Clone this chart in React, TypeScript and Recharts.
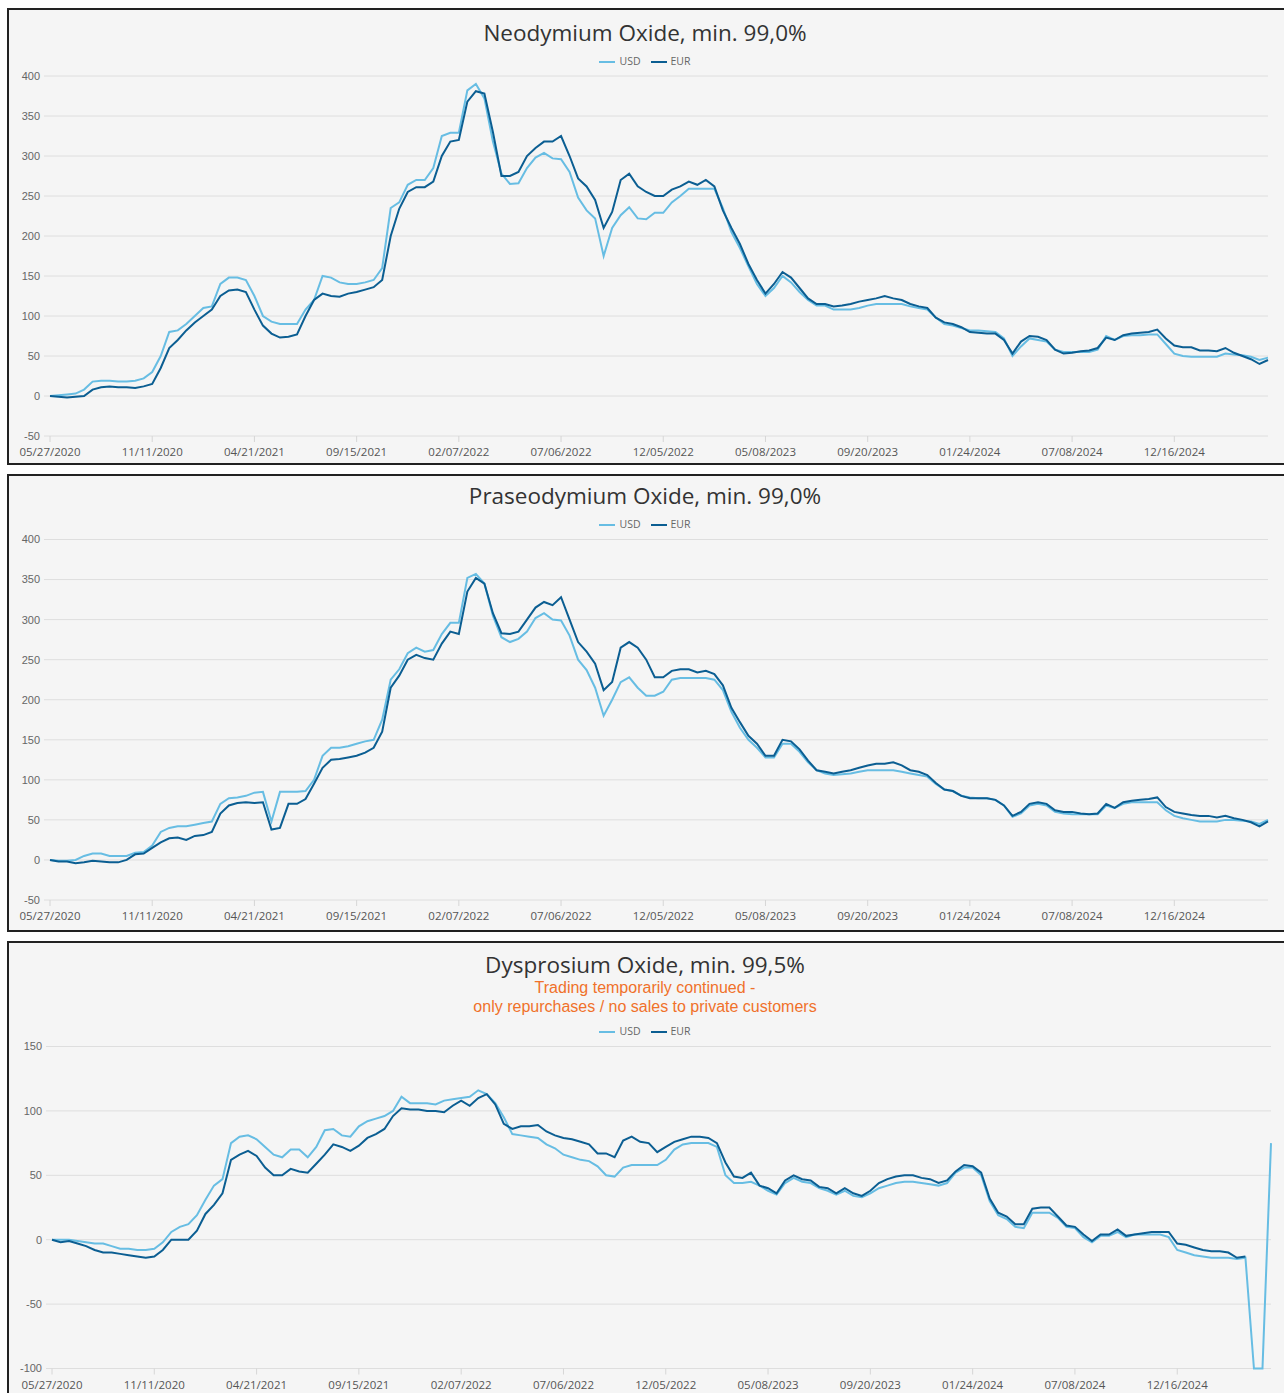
import { LineChart, Line, XAxis, YAxis, CartesianGrid, Legend } from 'recharts'

const TICK_LABELS = [
  '05/27/2020', '11/11/2020', '04/21/2021', '09/15/2021', '02/07/2022', '07/06/2022',
  '12/05/2022', '05/08/2023', '09/20/2023', '01/24/2024', '07/08/2024', '12/16/2024',
]
// data points between two labelled dates
const STEP = 12

// performance in %, weekly-ish samples
const NEO_USD = [
  0, 1, 2, 3, 8, 18, 19, 19, 18, 18,
  19, 22, 30, 50, 80, 82, 90, 100, 110, 112,
  140, 148, 148, 145, 125, 100, 93, 90, 90, 90,
  108, 120, 150, 148, 142, 140, 140, 142, 145, 160,
  235, 242, 264, 270, 270, 285, 325, 329, 329, 382,
  390, 372, 318, 278, 265, 266, 285, 298, 304, 297,
  296, 280, 248, 232, 222, 175, 210, 226, 236, 222,
  221, 229, 229, 242, 250, 259, 259, 259, 259, 235,
  205, 185, 162, 140, 125, 135, 150, 142, 130, 120,
  113, 113, 108, 108, 108, 110, 113, 115, 115, 115,
  115, 112, 110, 108, 98, 90, 88, 85, 82, 82,
  81, 80, 72, 50, 62, 72, 70, 68, 58, 55,
  55, 55, 55, 58, 75, 70, 75, 76, 76, 77,
  77, 65, 53, 50, 49, 49, 49, 49, 53, 52,
  51, 49, 45, 48,
]
const NEO_EUR = [
  0, -1, -2, -1, 0, 8, 11, 12, 11, 11,
  10, 12, 15, 35, 60, 70, 82, 92, 100, 108,
  125, 132, 133, 130, 108, 88, 78, 73, 74, 77,
  100, 120, 128, 125, 124, 128, 130, 133, 136, 145,
  200, 234, 255, 261, 261, 268, 300, 318, 320, 368,
  381, 378, 330, 275, 275, 280, 300, 310, 318, 318,
  325, 300, 272, 262, 245, 210, 230, 270, 278, 262,
  255, 250, 250, 258, 262, 268, 264, 270, 262, 232,
  210, 190, 165, 145, 128, 140, 155, 148, 135, 122,
  115, 115, 112, 113, 115, 118, 120, 122, 125, 122,
  120, 115, 112, 110, 98, 92, 90, 86, 80, 79,
  78, 78, 70, 53, 68, 75, 74, 70, 58, 53,
  54, 56, 57, 60, 73, 70, 76, 78, 79, 80,
  83, 72, 63, 61, 61, 57, 57, 56, 60, 54,
  50, 46, 40, 45,
]

const PRA_USD = [
  0, -1, -1, 0, 5, 8, 8, 5, 5, 5,
  9, 10, 18, 35, 40, 42, 42, 44, 46, 48,
  70, 77, 78, 80, 84, 85, 48, 85, 85, 85,
  86, 100, 130, 140, 140, 142, 145, 148, 150, 175,
  225, 238, 258, 265, 260, 262, 282, 296, 296, 352,
  357, 345, 305, 278, 272, 276, 285, 302, 308, 300,
  299, 280, 250, 237, 215, 180, 200, 222, 228, 215,
  205, 205, 210, 225, 227, 227, 227, 227, 225, 212,
  185, 165, 150, 140, 128, 128, 145, 145, 135, 122,
  112, 108, 106, 107, 108, 110, 112, 112, 112, 112,
  110, 108, 106, 104, 95, 88, 86, 80, 78, 77,
  77, 75, 68, 54, 58, 68, 70, 68, 60, 58,
  57, 57, 57, 57, 68, 65, 70, 72, 72, 72,
  72, 62, 55, 52, 50, 48, 48, 48, 50, 50,
  49, 48, 45, 50,
]
const PRA_EUR = [
  0, -2, -2, -4, -3, -1, -2, -3, -3, 0,
  7, 8, 15, 22, 27, 28, 25, 30, 31, 35,
  58, 68, 71, 72, 71, 72, 38, 40, 70, 70,
  76, 95, 115, 125, 126, 128, 130, 134, 140, 160,
  215, 230, 250, 256, 252, 250, 270, 285, 282, 335,
  352, 345, 308, 283, 282, 285, 300, 315, 322, 318,
  328, 300, 272, 260, 245, 212, 222, 265, 272, 265,
  250, 228, 228, 236, 238, 238, 234, 236, 232, 218,
  190, 172, 155, 145, 130, 130, 150, 148, 138, 124,
  112, 110, 108, 110, 112, 115, 118, 120, 120, 122,
  118, 112, 110, 106, 96, 88, 86, 80, 77, 77,
  77, 75, 68, 55, 60, 70, 72, 70, 62, 60,
  60, 58, 57, 58, 70, 65, 72, 74, 75, 76,
  78, 66, 60, 58, 56, 55, 55, 53, 55, 52,
  50, 47, 42, 48,
]

const DY_USD = [
  0, 0, 0, -1, -2, -3, -3, -5, -7, -7,
  -8, -8, -7, -2, 6, 10, 12, 19, 31, 42,
  47, 75, 80, 81, 78, 72, 66, 64, 70, 70,
  64, 72, 85, 86, 81, 80, 88, 92, 94, 96,
  100, 111, 106, 106, 106, 105, 108, 109, 110, 111,
  116, 113, 106, 95, 82, 81, 80, 79, 74, 71,
  66, 64, 62, 61, 57, 50, 49, 56, 58, 58,
  58, 58, 62, 70, 74, 75, 75, 75, 72, 50,
  44, 44, 45, 42, 38, 35, 44, 48, 45, 44,
  40, 38, 35, 38, 34, 33, 36, 40, 42, 44,
  45, 45, 44, 43, 42, 44, 52, 56, 56, 50,
  30, 19, 16, 10, 9, 21, 21, 21, 17, 10,
  9, 2, -2, 3, 3, 6, 2, 4, 4, 4,
  4, 2, -8, -10, -12, -13, -14, -14, -14, -15,
  -14, -100, -100, 75,
]
const DY_EUR = [
  0, -2, -1, -3, -5, -8, -10, -10, -11, -12,
  -13, -14, -13, -8, 0, 0, 0, 7, 20, 27,
  36, 62, 66, 69, 65, 56, 50, 50, 55, 53,
  52, 59, 66, 74, 72, 69, 73, 79, 82, 86,
  96, 102, 101, 101, 100, 100, 99, 104, 108, 104,
  110, 113, 105, 90, 86, 88, 88, 89, 84, 81,
  79, 78, 76, 74, 67, 67, 64, 77, 80, 76,
  75, 68, 72, 76, 78, 80, 80, 79, 75, 60,
  49, 48, 52, 42, 40, 36, 46, 50, 47, 46,
  41, 40, 36, 40, 36, 34, 38, 44, 47, 49,
  50, 50, 48, 47, 44, 46, 53, 58, 57, 52,
  32, 21, 18, 12, 12, 24, 25, 25, 18, 11,
  10, 4, -1, 4, 4, 8, 3, 4, 5, 6,
  6, 6, -3, -4, -6, -8, -9, -9, -10, -14,
  -13, null, null, null,
]

const Y_TICKS_WIDE = [-50, 0, 50, 100, 150, 200, 250, 300, 350, 400]
const Y_TICKS_DY = [-100, -50, 0, 50, 100, 150]

const USD_COLOR = '#67bde3'
const EUR_COLOR = '#0b5e92'
const CHART_W = 1272
const X_TICKS = TICK_LABELS.map((_, k) => k * STEP)

type PanelProps = {
  top: number
  height: number
  title: string
  notes?: string[]
  usd: (number | null)[]
  eur: (number | null)[]
  yTicks: number[]
  titleY: number
  legendY: number
  plotTop: number
  plotBottom: number
  plotLeft: number
  plotRight: number
}

function Panel(p: PanelProps) {
  const data = p.usd.map((v, i) => ({ i, usd: v, eur: p.eur[i] }))
  const last = p.usd.length - 1
  const chartH = p.height - 4
  return (
    <div
      style={{
        position: 'absolute', left: 7, top: p.top, width: 1279, height: p.height,
        border: '2px solid #222', boxSizing: 'border-box', background: '#f5f5f5', overflow: 'hidden',
      }}
    >
      <div style={{ position: 'absolute', left: 0, top: 0 }}>
        <LineChart
          width={CHART_W}
          height={chartH}
          data={data}
          margin={{ top: p.plotTop, right: CHART_W - p.plotRight, bottom: chartH - p.plotBottom - 26, left: 0 }}
        >
          <CartesianGrid vertical={false} stroke="#dedede" />
          <XAxis
            type="number"
            dataKey="i"
            domain={[0, last]}
            ticks={X_TICKS}
            interval={0}
            tickFormatter={(v: number) => TICK_LABELS[v / STEP]}
            padding={{ left: 6, right: 0 }}
            axisLine={false}
            tickLine={{ stroke: '#d6d6d6' }}
            tickSize={6}
            tickMargin={6}
            height={26}
            tick={{ fontSize: 11.5, fill: '#555', fontFamily: '"Open Sans"' }}
          />
          <YAxis
            type="number"
            domain={[p.yTicks[0], p.yTicks[p.yTicks.length - 1]]}
            ticks={p.yTicks}
            interval={0}
            width={p.plotLeft}
            axisLine={false}
            tickLine={false}
            tickSize={2}
            tickMargin={2}
            tick={{ fontSize: 11, fill: '#666', fontFamily: 'Arial' }}
          />
          <Legend
            verticalAlign="middle"
            align="center"
            layout="horizontal"
            iconType="plainline"
            iconSize={16}
            itemSorter={(item: { value?: string }) => (item.value === 'USD' ? 0 : 1)}
            wrapperStyle={{ top: p.legendY - 9, left: 5, width: CHART_W, fontSize: 10.5, fontFamily: '"Open Sans"', lineHeight: '16px' }}
            formatter={(v: string) => <span style={{ color: '#666' }}>{v}</span>}
          />
          <Line type="linear" dataKey="usd" name="USD" stroke={USD_COLOR} strokeWidth={2} dot={false} isAnimationActive={false} />
          <Line type="linear" dataKey="eur" name="EUR" stroke={EUR_COLOR} strokeWidth={2} dot={false} isAnimationActive={false} />
        </LineChart>
      </div>
      <div
        style={{
          position: 'absolute', left: 0, top: p.titleY - 14, width: CHART_W, textAlign: 'center',
          fontFamily: '"Open Sans"', fontSize: 22.5, lineHeight: '28px', color: '#333',
        }}
      >
        {p.title}
      </div>
      {p.notes?.map((n, k) => (
        <div
          key={k}
          style={{
            position: 'absolute', left: 0, top: p.titleY + 13 + k * 19, width: CHART_W, textAlign: 'center',
            fontFamily: 'Arial', fontSize: 16, lineHeight: '19px', color: '#f0712a',
          }}
        >
          {n}
        </div>
      ))}
    </div>
  )
}

export default function App() {
  return (
    <div style={{ position: 'absolute', left: 0, top: 0, width: 1284, height: 1393, overflow: 'hidden', background: '#fff' }}>
      <Panel
        top={8} height={457} title="Neodymium Oxide, min. 99,0%"
        usd={NEO_USD} eur={NEO_EUR} yTicks={Y_TICKS_WIDE}
        titleY={23} legendY={52} plotTop={66} plotBottom={426} plotLeft={35} plotRight={1259}
      />
      <Panel
        top={474} height={458} title="Praseodymium Oxide, min. 99,0%"
        usd={PRA_USD} eur={PRA_EUR} yTicks={Y_TICKS_WIDE}
        titleY={20} legendY={49} plotTop={63.5} plotBottom={424} plotLeft={35} plotRight={1259}
      />
      <Panel
        top={941} height={470} title="Dysprosium Oxide, min. 99,5%"
        notes={['Trading temporarily continued -', 'only repurchases / no sales to private customers']}
        usd={DY_USD} eur={DY_EUR} yTicks={Y_TICKS_DY}
        titleY={22} legendY={89} plotTop={103.5} plotBottom={425.5} plotLeft={37} plotRight={1262}
      />
    </div>
  )
}
